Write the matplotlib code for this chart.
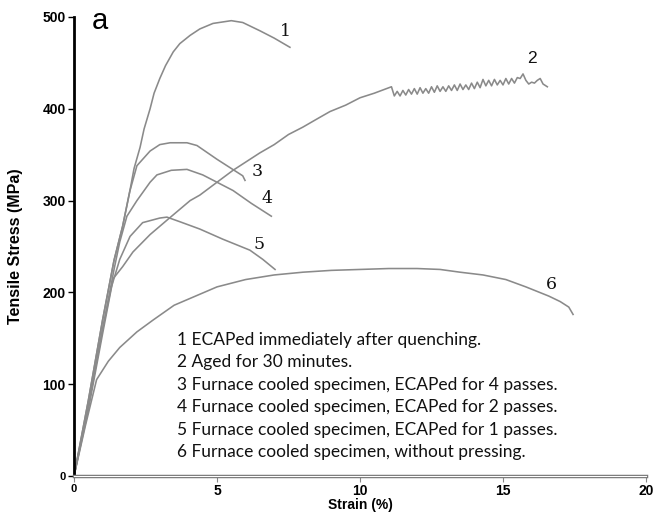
import matplotlib
matplotlib.use("Agg")
import matplotlib.pyplot as plt

# ---- data (strain %, stress MPa) ----
c1_x = [0, 0.5, 1.0, 1.4, 1.7, 1.95, 2.1, 2.31, 2.45, 2.66, 2.8, 3.0, 3.2, 3.47, 3.7, 4.06, 4.4, 4.86, 5.5, 5.9, 6.5, 7.0, 7.55]
c1_y = [0, 82, 170, 235, 272, 310, 335, 358, 378, 400, 417, 433, 447, 462, 471, 480, 487, 493, 496, 494, 485, 477, 467]

c2_x = [0, 0.5, 1.0, 1.37, 1.7, 2.06, 2.66, 3.3, 4.06, 4.4, 5.0, 5.56, 6.5, 7.0, 7.5, 8.0, 8.5, 8.95, 9.5, 10.0, 10.5, 11.1,
        11.2, 11.3, 11.4, 11.5, 11.6, 11.7, 11.8, 11.9, 12.0, 12.1, 12.2, 12.3, 12.4, 12.5, 12.6, 12.7, 12.8,
        12.9, 13.0, 13.1, 13.2, 13.3, 13.4, 13.5, 13.6, 13.7, 13.8, 13.9, 14.0, 14.1, 14.2, 14.3, 14.4, 14.5,
        14.6, 14.7, 14.8, 14.9, 15.0, 15.1, 15.2, 15.3, 15.4, 15.5, 15.6, 15.7, 15.8, 15.9, 16.0, 16.1, 16.2,
        16.3, 16.4, 16.55]
c2_y = [0, 72, 155, 215, 228, 244, 263, 280, 300, 306, 320, 333, 352, 361, 372, 380, 389, 397, 404, 412, 417, 424,
        414, 419, 414, 420, 415, 421, 416, 422, 416, 423, 417, 422, 417, 424, 418, 425, 419,
        424, 419, 425, 420, 426, 420, 427, 421, 426, 421, 428, 422, 429, 423, 432, 425, 431,
        425, 432, 426, 431, 426, 433, 427, 433, 428, 434, 433, 438, 431, 427, 429, 428, 431,
        433, 427, 424]

c3_x = [0, 0.5, 1.0, 1.4, 1.7, 1.95, 2.2, 2.66, 3.0, 3.36, 3.95, 4.3, 5.0, 5.5, 5.9, 5.98]
c3_y = [0, 82, 170, 235, 272, 310, 338, 354, 361, 363, 363, 360, 345, 335, 327, 322]

c4_x = [0, 0.5, 1.0, 1.4, 1.6, 1.85, 2.2, 2.66, 2.9, 3.4, 3.95, 4.5, 5.0, 5.56, 6.2, 6.9]
c4_y = [0, 76, 160, 225, 255, 283, 300, 320, 328, 333, 334, 328, 320, 311, 297, 283]

c5_x = [0, 0.5, 1.0, 1.3, 1.6, 1.96, 2.4, 3.0, 3.25, 3.7, 4.4, 5.2, 6.15, 6.6, 7.03]
c5_y = [0, 76, 160, 205, 236, 261, 276, 281, 282, 277, 269, 258, 246, 236, 225]

c6_x = [0, 0.4, 0.79, 1.2, 1.6, 2.2, 2.77, 3.5, 3.95, 5.0, 6.0, 7.0, 8.0, 9.0, 10.0, 11.0, 12.0, 12.8,
        13.5, 14.3, 15.1, 15.8, 16.6, 17.0, 17.3, 17.45]
c6_y = [0, 55, 105, 125, 140, 157, 170, 186, 192, 206, 214, 219, 222, 224, 225, 226, 226, 225,
        222, 219, 214, 206, 196, 190, 184, 176]

curve_labels = ["1", "2", "3", "4", "5", "6"]
label_x = [7.4, 16.0, 6.4, 6.75, 6.47, 16.7]
label_y = [484, 455, 332, 302, 252, 209]

legend_lines = [
    "1 ECAPed immediately after quenching.",
    "2 Aged for 30 minutes.",
    "3 Furnace cooled specimen, ECAPed for 4 passes.",
    "4 Furnace cooled specimen, ECAPed for 2 passes.",
    "5 Furnace cooled specimen, ECAPed for 1 passes.",
    "6 Furnace cooled specimen, without pressing.",
]

x_ticks = [0, 5, 10, 15, 20]
y_ticks = [0, 100, 200, 300, 400, 500]

# ---- figure ----
W, H = 657, 522
fig = plt.figure(figsize=(W / 100, H / 100), dpi=100)
ax = fig.add_axes([74 / W, 1 - 476 / H, (646 - 74) / W, (476 - 17) / H])

line_color = "#8a8a8a"
for xs, ys in [(c1_x, c1_y), (c2_x, c2_y), (c3_x, c3_y), (c4_x, c4_y), (c5_x, c5_y), (c6_x, c6_y)]:
    ax.plot(xs, ys, color=line_color, lw=1.15, solid_joinstyle="round")

for lab, lx, ly in zip(curve_labels, label_x, label_y):
    fam = "Liberation Sans" if lab == "2" else "DejaVu Serif"
    ax.text(lx, ly, lab, fontsize=12.5, family=fam, ha="center", va="center", color="#111111")

for i, t in enumerate(legend_lines):
    fig.text(177 / W, 1 - (340 + i * 22.4) / H, t, fontsize=12.5, family="Lato",
             ha="left", va="center", color="#111111")

ax.text(0.9, 496, "a", fontsize=21, family="Liberation Sans", ha="center", va="center")

ax.set_xlim(0, 20)
ax.set_ylim(0, 500)
ax.set_xticks(x_ticks)
ax.set_yticks(y_ticks)
ax.set_xticklabels([str(v) for v in x_ticks], fontsize=10, fontweight="bold", family="Liberation Sans")
ax.set_yticklabels([str(v) for v in y_ticks], fontsize=10, fontweight="bold", family="Liberation Sans")
for lbl in (ax.get_xticklabels()[0], ax.get_yticklabels()[0]):
    lbl.set_fontsize(8)
ax.set_xlabel("Strain (%)", fontsize=10, fontweight="bold", family="Liberation Sans", labelpad=0)
ax.set_ylabel("Tensile Stress (MPa)", fontsize=11.5, fontweight="bold", family="Liberation Sans", labelpad=14)

for s in ["top", "right"]:
    ax.spines[s].set_visible(False)
ax.spines["left"].set_linewidth(2.0)
ax.spines["left"].set_color("black")
ax.spines["bottom"].set_linewidth(2.5)
ax.spines["bottom"].set_color("#777777")
ax.axhline(0, color="white", lw=0.8, zorder=5, clip_on=False)
ax.tick_params(axis="y", length=4, width=1, pad=2)
ax.tick_params(axis="x", length=4, width=0.8, color="#888888", pad=2)

fig.savefig("out.png", dpi=100)
